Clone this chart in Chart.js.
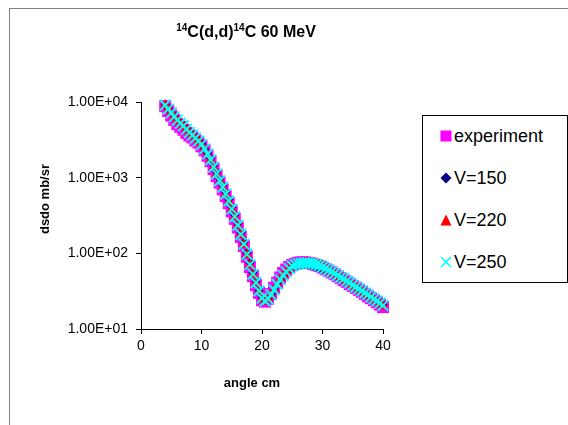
<!DOCTYPE html>
<html><head><meta charset="utf-8">
<script src="https://cdn.jsdelivr.net/npm/chart.js@4"></script>
<style>
html,body{margin:0;padding:0;width:568px;height:425px;overflow:hidden;background:#fff;font-family:"Liberation Sans",Arial,sans-serif;}
#frame{position:absolute;left:9px;top:8px;width:700px;height:600px;border:1px solid #808080;}
#c{position:absolute;left:0;top:0;}
.t{position:absolute;color:#000;white-space:nowrap;}
#title{left:96px;width:300px;top:22px;line-height:20px;font-size:16px;font-weight:bold;text-align:center;}
#title span{font-size:10px;position:relative;top:-6px;}
#xt{left:152px;width:200px;top:375px;line-height:16px;font-size:13px;font-weight:bold;text-align:center;}
#yt{left:-55px;width:200px;top:191px;line-height:16px;font-size:13px;font-weight:bold;text-align:center;transform:rotate(-90deg);}
#legend{position:absolute;left:422px;top:115px;width:144px;height:166px;border:1px solid #000;background:#fff;}
#legend .row{position:absolute;left:0;height:20px;width:144px;}
#legend svg{position:absolute;left:17px;top:4px;}
#legend .lab{position:absolute;left:31px;top:0;line-height:20px;font-size:18px;color:#000;}
</style>
</head><body>
<div id="frame"></div>
<canvas id="c" width="568" height="425"></canvas>
<div class="t" id="title"><span>14</span>C(d,d)<span>14</span>C 60 MeV</div>
<div class="t" id="xt">angle cm</div>
<div class="t" id="yt">dsdo mb/sr</div>
<div id="legend">
  <div class="row" style="top:10px"><svg width="12" height="12"><rect x="0.5" y="0.5" width="11" height="11" fill="#FF00FF"/></svg><span class="lab">experiment</span></div>
  <div class="row" style="top:52px"><svg width="12" height="12"><polygon points="6,0.5 11.5,6 6,11.5 0.5,6" fill="#000080"/></svg><span class="lab">V=150</span></div>
  <div class="row" style="top:94px"><svg width="12" height="12"><polygon points="6,0.5 11.5,11.5 0.5,11.5" fill="#FF0000"/></svg><span class="lab">V=220</span></div>
  <div class="row" style="top:136px"><svg width="12" height="12"><line x1="1" y1="1" x2="11" y2="11" stroke="#00FFFF" stroke-width="1.6"/><line x1="11" y1="1" x2="1" y2="11" stroke="#00FFFF" stroke-width="1.6"/></svg><span class="lab">V=250</span></div>
</div>
<script>
const angles = [4,4.5,5,5.5,6,6.5,7,7.5,8,8.5,9,9.5,10,10.5,11,11.5,12,12.5,13,13.5,14,14.5,15,15.5,16,16.5,17,17.5,18,18.5,19,19.5,20,20.5,21,21.5,22,22.5,23,23.5,24,24.5,25,25.5,26,26.5,27,27.5,28,28.5,29,29.5,30,30.5,31,31.5,32,32.5,33,33.5,34,34.5,35,35.5,36,36.5,37,37.5,38,38.5,39,39.5,40];
const experiment = [8800,7600,6600,5800,5100,4700,4300,3900,3600,3400,
  3100,2900,2600,2300,1950,1650,1300,1050,860,700,
  570,460,360,285,220,165,125,90,66,50,
  38,30,24,23,25,29,35,41,48,55,
  61,66,70,73,75,76,76,75,74,72,
  70,68,65,62,59,56,53,50,47,44,
  42,39,37,35,33,31,29,27,25.5,24,
  22.5,21,19.5];
const v150 = [9300,8300,7400,6600,5900,5400,5000,4500,4100,3750,
  3450,3150,2850,2450,2100,1800,1450,1180,960,790,
  640,510,405,320,245,185,140,102,75,55,
  42,32,26,24,25,28,32,38,44,50,
  56,61,65,68,70,71,72,71,70,68,
  66,64,62,60,58,56,53,51,48,46,
  43,41,38,36,34,32,30,28,26.5,25,
  23.5,22,21];
const v220 = [9000,8000,7100,6300,5700,5200,4800,4300,3900,3600,
  3300,3000,2700,2350,2000,1700,1350,1100,900,740,
  600,480,380,300,230,175,130,95,70,52,
  40,31,25,23,25,28,33,39,45,51,
  57,62,67,70,72,73,74,75,74,73,
  72,70,68,64,60,57,54,51,48,45,
  43,40,38,36,34,32,30,28,26,24.5,
  23,21.5,20];
const v250 = [9100,8100,7200,6400,5750,5250,4850,4350,3950,3650,
  3350,3050,2750,2400,2050,1720,1380,1120,910,750,
  610,490,385,305,235,178,132,97,71,53,
  41,32,25.5,23.5,25,28.5,33,39,45,51,
  57,63,68,71,73,74,75,75,74,73,
  71,69,66,63,60,57,54,51,48,46,
  43,41,38,36,34,32,30,28.5,26.5,25,
  23.5,22,20.5];
const seriesLabels = ['experiment','V=150','V=220','V=250'];
const yTickValues = [10,100,1000,10000];
const yTickLabels = ['1.00E+01','1.00E+02','1.00E+03','1.00E+04'];
const xTickValues = [0,10,20,30,40];

const toPts = ys => angles.map((a,i)=>({x:a,y:ys[i]}));
const FONT = '"Liberation Sans", Arial, sans-serif';

new Chart(document.getElementById('c'), {
  type:'scatter',
  data:{datasets:[
    {label:seriesLabels[0], data:toPts(experiment), pointStyle:'rect', pointRadius:8.5, backgroundColor:'#FF00FF', borderColor:'#FF00FF', borderWidth:0, order:4, clip:false},
    {label:seriesLabels[1], data:toPts(v150), pointStyle:'rectRot', pointRadius:4.5, backgroundColor:'#000080', borderColor:'#000080', borderWidth:0, order:3, clip:false},
    {label:seriesLabels[2], data:toPts(v220), pointStyle:'triangle', pointRadius:6.2, backgroundColor:'#FF0000', borderColor:'#FF0000', borderWidth:0, order:2, clip:false},
    {label:seriesLabels[3], data:toPts(v250), pointStyle:'crossRot', pointRadius:7.5, backgroundColor:'#00FFFF', borderColor:'#00FFFF', borderWidth:2, order:1, clip:false}
  ]},
  options:{
    responsive:false, animation:false, devicePixelRatio:1,
    layout:{padding:{left:0,top:102,right:185,bottom:0}},
    plugins:{legend:{display:false}, tooltip:{enabled:false}, title:{display:false}},
    scales:{
      x:{type:'linear', min:0, max:40,
        afterBuildTicks: s=>{ s.ticks = xTickValues.map(v=>({value:v})); },
        ticks:{color:'#000', font:{family:FONT, size:14}, padding:4, maxRotation:0, autoSkip:false},
        grid:{display:true, drawOnChartArea:false, drawTicks:true, tickLength:5, color:'#000'},
        border:{color:'#000', width:1},
        afterFit: s=>{ s.height = 96; }
      },
      y:{type:'logarithmic', min:10, max:10000,
        afterBuildTicks: s=>{ s.ticks = yTickValues.map(v=>({value:v})); },
        ticks:{color:'#000', font:{family:FONT, size:14}, padding:8, autoSkip:false, callback:(v,i)=>yTickLabels[i]},
        grid:{display:true, drawOnChartArea:false, drawTicks:true, tickLength:5, color:'#000'},
        border:{color:'#000', width:1},
        afterFit: s=>{ s.width = 141; }
      }
    }
  }
});
</script>
</body></html>
